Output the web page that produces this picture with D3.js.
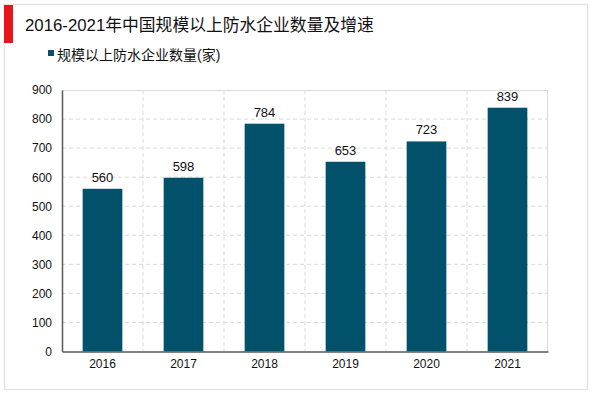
<!DOCTYPE html>
<html>
<head>
<meta charset="utf-8">
<script src="https://cdn.jsdelivr.net/npm/d3@7"></script>
<style>
  body { margin: 0; background: #fff; }
  text { font-family: "Liberation Sans", Arial, "Noto Sans CJK SC", sans-serif; }
</style>
</head>
<body>
<div id="chart"></div>
<script>
const years = ['2016', '2017', '2018', '2019', '2020', '2021'];
const counts = [560, 598, 784, 653, 723, 839];
const yTicks = [0, 100, 200, 300, 400, 500, 600, 700, 800, 900];
const titleText = '2016-2021年中国规模以上防水企业数量及增速';
const seriesName = '规模以上防水企业数量(家)';

const W = 600, H = 393;
const margin = { top: 90, right: 52, bottom: 41.5, left: 62 };
const width = W - margin.left - margin.right;
const height = H - margin.top - margin.bottom;
const BAR_COLOR = '#02516a';

const svgRoot = d3.select('#chart').append('svg').attr('width', W).attr('height', H);

// outer frame
svgRoot.append('rect')
  .attr('x', 4.5).attr('y', 4.5).attr('width', 583).attr('height', 385)
  .attr('fill', 'none').attr('stroke', '#e4e4e4').attr('stroke-width', 1.5);

// title with red marker
svgRoot.append('rect').attr('x', 4).attr('y', 5).attr('width', 9).attr('height', 38).attr('fill', '#e8161c');
svgRoot.append('text')
  .attr('x', 25).attr('y', 31)
  .attr('font-size', 16.8).attr('fill', '#111')
  .text(titleText);

// legend
svgRoot.append('rect').attr('x', 48).attr('y', 50).attr('width', 6).attr('height', 6).attr('fill', BAR_COLOR);
svgRoot.append('text')
  .attr('x', 57).attr('y', 55).attr('dy', '0.35em')
  .attr('font-size', 14).attr('fill', '#111')
  .text(seriesName);

const svg = svgRoot.append('g').attr('transform', `translate(${margin.left},${margin.top})`);

const x = d3.scaleBand().domain(years).range([0, width]).paddingInner(0.51).paddingOuter(0.255);
const y = d3.scaleLinear().domain([0, 900]).range([height, 0]);

// horizontal dashed grid
svg.append('g')
  .selectAll('line')
  .data(yTicks.filter((t) => t > 0 && t < 900))
  .enter()
  .append('line')
  .attr('x1', 0).attr('x2', width)
  .attr('y1', (d) => y(d)).attr('y2', (d) => y(d))
  .attr('stroke', '#d9d9d9').attr('stroke-dasharray', '4,3');

// vertical dashed grid between categories
const step = x.step();
svg.append('g')
  .selectAll('line')
  .data(years.slice(1))
  .enter()
  .append('line')
  .attr('x1', (d) => x(d) - (step - x.bandwidth()) / 2)
  .attr('x2', (d) => x(d) - (step - x.bandwidth()) / 2)
  .attr('y1', 0).attr('y2', height)
  .attr('stroke', '#d9d9d9').attr('stroke-dasharray', '4,3');

// top and right plot border
svg.append('line').attr('x1', 0).attr('x2', width).attr('y1', 0.5).attr('y2', 0.5).attr('stroke', '#d9d9d9');
svg.append('line').attr('x1', width - 0.5).attr('x2', width - 0.5).attr('y1', 0).attr('y2', height).attr('stroke', '#d9d9d9');

// bars
svg.append('g')
  .selectAll('rect')
  .data(years)
  .enter()
  .append('rect')
  .attr('x', (d) => x(d))
  .attr('y', (d, i) => y(counts[i]))
  .attr('width', x.bandwidth())
  .attr('height', (d, i) => height - y(counts[i]))
  .attr('fill', BAR_COLOR);

// value labels
svg.append('g')
  .selectAll('text')
  .data(years)
  .enter()
  .append('text')
  .attr('x', (d) => x(d) + x.bandwidth() / 2)
  .attr('y', (d, i) => y(counts[i]) - 7)
  .attr('text-anchor', 'middle')
  .attr('font-size', 13).attr('fill', '#111')
  .text((d, i) => counts[i]);

// Y axis
const yAxis = svg.append('g')
  .call(d3.axisLeft(y).tickValues(yTicks).tickSize(0).tickPadding(10));
yAxis.select('.domain').attr('stroke', '#595959').attr('stroke-width', 1.5);
yAxis.selectAll('text').attr('font-size', 12).attr('fill', '#111');

// X axis
const xAxis = svg.append('g')
  .attr('transform', `translate(0,${height})`)
  .call(d3.axisBottom(x).tickSize(0).tickPadding(8));
xAxis.select('.domain').attr('stroke', '#595959').attr('stroke-width', 1.5);
xAxis.selectAll('text').attr('font-size', 12).attr('fill', '#111');
</script>
</body>
</html>
